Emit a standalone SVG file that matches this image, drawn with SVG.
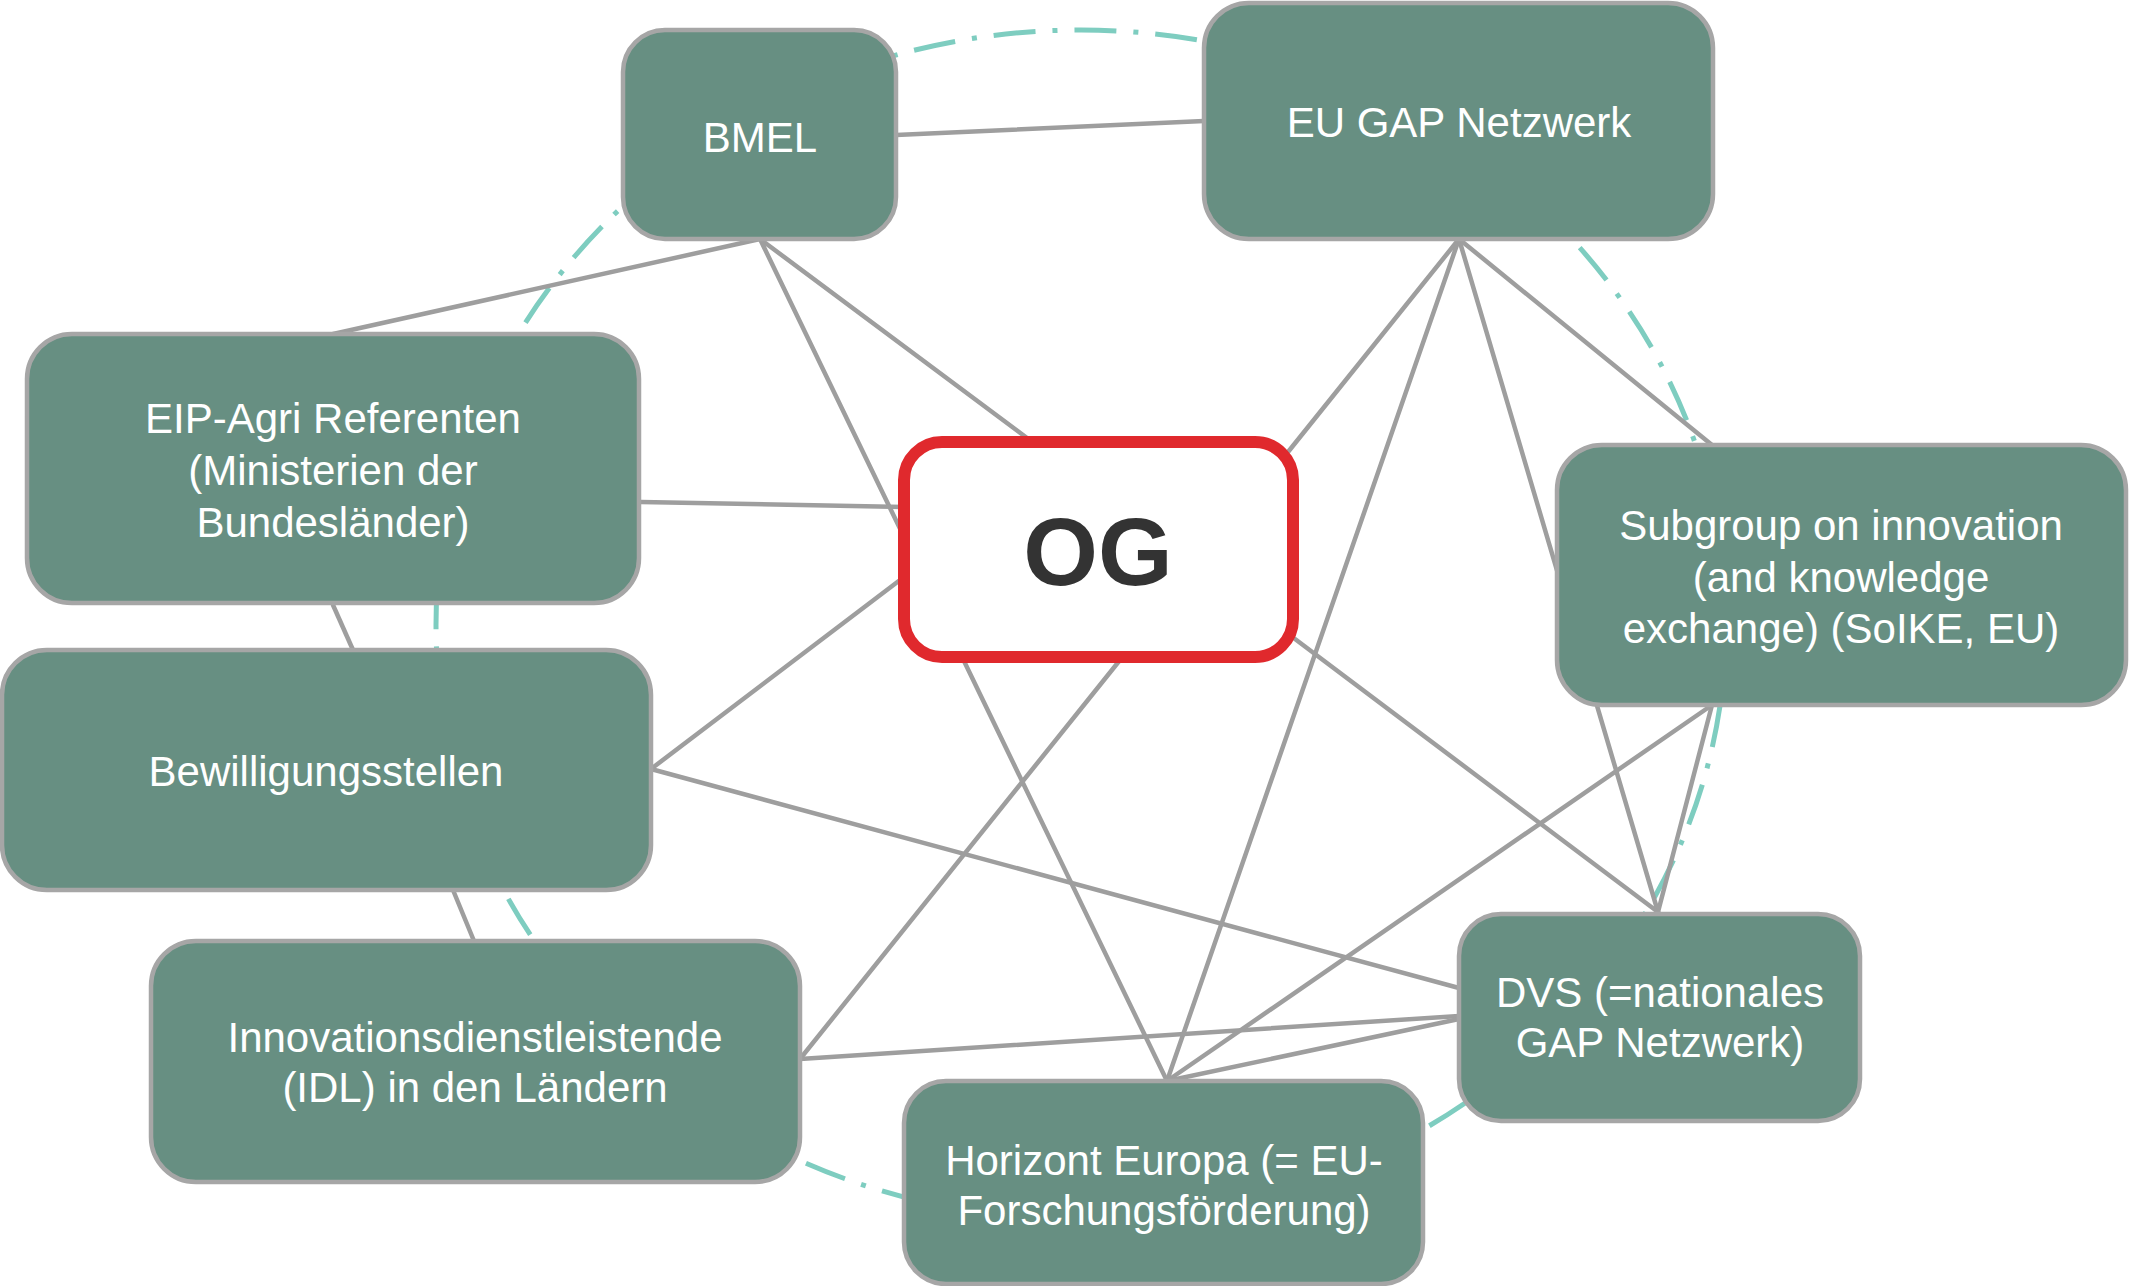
<svg xmlns="http://www.w3.org/2000/svg" width="2133" height="1286" viewBox="0 0 2133 1286">
<style>
.node rect{fill:#678f82;stroke:#a6a6a6;stroke-width:4.5}
.node text{fill:#ffffff;font-family:"Liberation Sans",Arial,sans-serif;font-size:42px;text-anchor:middle}
#connectors line{stroke:#9e9e9e;stroke-width:4.5;stroke-linecap:round}
#og rect{fill:#ffffff;stroke:#e0292d;stroke-width:12}
#og text{fill:#333333;font-family:"Liberation Sans",Arial,sans-serif;font-size:96px;font-weight:bold;text-anchor:middle}
.ring{fill:none;stroke:#7ecdc0;stroke-width:5;stroke-dasharray:42 17 5 17}
</style>
<rect width="2133" height="1286" fill="#ffffff"/>
<ellipse class="ring" cx="1081" cy="625" rx="645" ry="595"/>
<g id="connectors">
<line x1="896" y1="135" x2="1204" y2="121"/>
<line x1="760" y1="239" x2="333" y2="334"/>
<line x1="760" y1="239" x2="1027" y2="438"/>
<line x1="760" y1="239" x2="1167" y2="1081"/>
<line x1="1459" y1="239" x2="1288" y2="452"/>
<line x1="1459" y1="239" x2="1167" y2="1081"/>
<line x1="1459" y1="239" x2="1658" y2="912"/>
<line x1="1459" y1="239" x2="1712" y2="445"/>
<line x1="641" y1="502" x2="904" y2="507"/>
<line x1="333" y1="605" x2="353" y2="650"/>
<line x1="651" y1="769" x2="904" y2="577"/>
<line x1="651" y1="769" x2="1459" y2="988"/>
<line x1="453" y1="890" x2="474" y2="941"/>
<line x1="800" y1="1059" x2="1120" y2="660"/>
<line x1="800" y1="1059" x2="1459" y2="1016"/>
<line x1="1295" y1="639" x2="1658" y2="912"/>
<line x1="1712" y1="705" x2="1658" y2="912"/>
<line x1="1712" y1="705" x2="1167" y2="1081"/>
<line x1="1167" y1="1081" x2="1459" y2="1019"/>
</g>
<g id="bmel" class="node">
<rect x="623" y="30" width="273" height="209" rx="42"/>
<text x="760" y="152">BMEL</text>
</g>
<g id="eugap" class="node">
<rect x="1204" y="3" width="509" height="236" rx="45"/>
<text x="1459" y="137">EU GAP Netzwerk</text>
</g>
<g id="eip" class="node">
<rect x="27" y="334" width="612" height="269" rx="45"/>
<text x="333" y="433">EIP-Agri Referenten</text>
<text x="333" y="485">(Ministerien der</text>
<text x="333" y="537">Bundesländer)</text>
</g>
<g id="subgroup" class="node">
<rect x="1557" y="445" width="569" height="260" rx="45"/>
<text x="1841" y="540">Subgroup on innovation</text>
<text x="1841" y="592">(and knowledge</text>
<text x="1841" y="643">exchange) (SoIKE, EU)</text>
</g>
<g id="bewilligung" class="node">
<rect x="2" y="650" width="649" height="240" rx="45"/>
<text x="326" y="786">Bewilligungsstellen</text>
</g>
<g id="idl" class="node">
<rect x="151" y="941" width="649" height="241" rx="45"/>
<text x="475" y="1052">Innovationsdienstleistende</text>
<text x="475" y="1102">(IDL) in den Ländern</text>
</g>
<g id="dvs" class="node">
<rect x="1459" y="914" width="401" height="207" rx="42"/>
<text x="1660" y="1007">DVS (=nationales</text>
<text x="1660" y="1057">GAP Netzwerk)</text>
</g>
<g id="horizont" class="node">
<rect x="904" y="1081" width="519" height="203" rx="42"/>
<text x="1164" y="1175">Horizont Europa (= EU-</text>
<text x="1164" y="1225">Forschungsförderung)</text>
</g>
<g id="og">
<rect x="904" y="442" width="389" height="215" rx="38"/>
<text x="1098" y="585">OG</text>
</g>
</svg>
